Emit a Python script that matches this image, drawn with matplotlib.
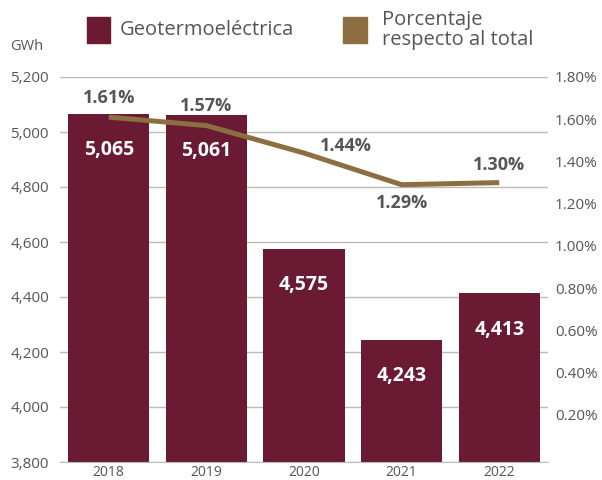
import numpy as np
import matplotlib
matplotlib.use("Agg")
import matplotlib.pyplot as plt
from matplotlib.patches import Rectangle

plt.rcParams['font.family'] = ['Open Sans', 'DejaVu Sans']

years = ['2018', '2019', '2020', '2021', '2022']
gwh = [5065, 5061, 4575, 4243, 4413]
pct = [1.61, 1.57, 1.44, 1.29, 1.30]
left_ticks = [3800, 4000, 4200, 4400, 4600, 4800, 5000, 5200]
right_ticks = [0.2, 0.4, 0.6, 0.8, 1.0, 1.2, 1.4, 1.6, 1.8]

BAR = '#6A1A33'
LINE = '#8D6E40'
GREY = '#555555'

fig = plt.figure(figsize=(6.02, 4.8), dpi=100)
ax = fig.add_axes([60 / 602, 18 / 480, 488 / 602, 385 / 480])
x = np.arange(len(years))

ax.set_axisbelow(True)
ax.yaxis.grid(True, color='#bbbbbb', linewidth=1)
ax.bar(x, gwh, width=0.83, color=BAR, zorder=2)
ax.set_ylim(3800, 5200)
ax.set_xlim(-0.5, 4.5)
ax.set_yticks(left_ticks)
ax.set_yticklabels([f"{v:,}" for v in left_ticks])
ax.set_xticks(x)
ax.set_xticklabels(years)
ax.tick_params(axis='y', length=0, pad=8, labelsize=11, labelcolor=GREY)
ax.tick_params(axis='x', length=0, pad=2, labelsize=10, labelcolor=GREY)
for s in ['top', 'right', 'left']:
    ax.spines[s].set_visible(False)
ax.spines['bottom'].set_color('#bbbbbb')

for xi, v in zip(x, gwh):
    ax.annotate(f"{v:,}", (xi, v), xytext=(0, -26), textcoords='offset points',
                ha='center', va='center', color='white', fontsize=14, fontweight='bold')

ax2 = ax.twinx()
ax2.plot(x, pct, color=LINE, linewidth=3.6, solid_capstyle='butt')
ax2.set_ylim(-0.023, 1.786)
ax2.set_yticks(right_ticks)
ax2.set_yticklabels([f"{v:.2f}%" for v in right_ticks])
ax2.tick_params(axis='y', length=0, pad=5, labelsize=11, labelcolor=GREY)
for s in ax2.spines.values():
    s.set_visible(False)

offsets = [(0, 14), (0, 14), (30, 5), (0, -13), (0, 13)]
for xi, v, off in zip(x, pct, offsets):
    ax2.annotate(f"{v:.2f}%", (xi, v), xytext=off, textcoords='offset points',
                 ha='center', va='center', color=GREY, fontsize=13, fontweight='bold')

# legend drawn by hand
fig.patches.append(Rectangle((87 / 602, 1 - 43 / 480), 23 / 602, 26 / 480,
                             transform=fig.transFigure, color=BAR))
fig.text(120 / 602, 1 - 30 / 480, 'Geotermoeléctrica', fontsize=14.5,
         color=GREY, va='center')
fig.patches.append(Rectangle((343 / 602, 1 - 43 / 480), 24 / 602, 26 / 480,
                             transform=fig.transFigure, color=LINE))
fig.text(382 / 602, 1 - 30 / 480, 'Porcentaje\nrespecto al total', fontsize=14.5,
         color=GREY, va='center', linespacing=1.05)
fig.text(10 / 602, 1 - 47 / 480, 'GWh', fontsize=10.5, color=GREY, va='center')

fig.savefig('out.png', dpi=100)
